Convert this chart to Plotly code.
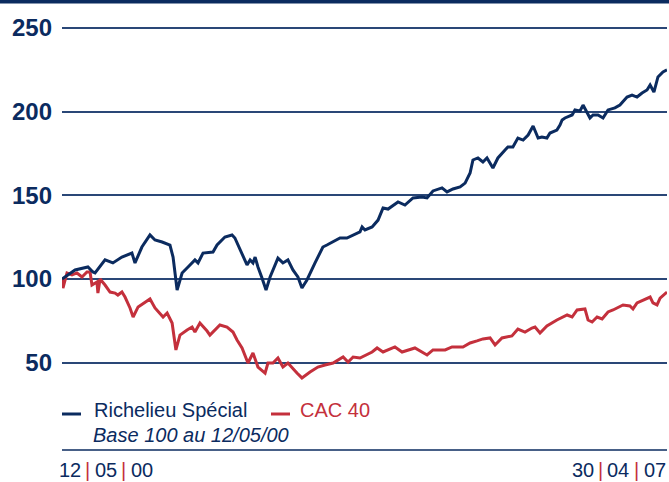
import pandas as pd
import plotly.graph_objects as go

START = "2000-05-12"
END = "2007-04-30"

# Richelieu Spécial (base 100) – days since 12/05/00 and index values
rich_days = [0, 55, 109, 130, 139, 181, 214, 252, 294, 307, 336, 370, 391, 421, 454, 467, 484, 505, 530, 559,
             572, 593, 635, 652, 685, 715, 727, 757, 778, 791, 803, 812, 824, 841, 858, 875, 908, 929, 950, 971,
             992, 1009, 1030, 1064, 1085, 1097, 1114, 1140, 1169, 1198, 1224, 1253, 1262, 1274, 1304, 1329, 1350,
             1371, 1413, 1442, 1476, 1514, 1535, 1560, 1598, 1619, 1644, 1674, 1695, 1716, 1728, 1749, 1770, 1787,
             1812, 1833, 1863, 1875, 1896, 1917, 1939, 1960, 1981, 2002, 2018, 2039, 2052, 2081, 2094, 2103, 2115,
             2145, 2157, 2178, 2191, 2208, 2220, 2233, 2254, 2275, 2296, 2325, 2346, 2376, 2397, 2418, 2439, 2460,
             2473, 2489, 2506, 2527, 2544]
rich_vals = [100.0, 105.4, 107.2, 104.2, 103.6, 111.4, 109.6, 113.1, 115.5, 109.6, 119.1, 126.3, 123.3, 122.1, 120.3,
             113.1, 93.4, 103.6, 107.2, 111.4, 109.6, 115.5, 116.1, 120.3, 125.1, 126.3, 124.5, 115.5, 108.4, 111.4,
             109.6, 113.1, 107.2, 100.6, 93.4, 101.2, 112.5, 109.6, 111.4, 105.4, 101.2, 94.6, 99.4, 109.6, 115.5,
             119.1, 120.3, 122.1, 124.5, 124.5, 126.3, 128.1, 131.1, 129.3, 131.1, 135.2, 142.4, 141.8, 146.0, 144.2,
             148.4, 149.0, 148.4, 152.6, 154.4, 152.0, 153.8, 155.0, 157.3, 163.3, 171.1, 172.3, 169.9, 172.3, 166.3,
             172.3, 177.1, 178.9, 178.9, 184.2, 183.0, 186.0, 191.4, 184.2, 184.8, 184.2, 187.2, 189.0, 192.0, 195.0,
             196.2, 198.0, 201.0, 200.4, 203.9, 199.8, 196.2, 198.0, 198.0, 196.2, 201.0, 202.2, 203.9, 208.7, 209.9,
             208.7, 211.1, 212.9, 215.9, 211.7, 220.7, 223.7, 224.9]

# CAC 40 (base 100)
cac_days = [0, 4, 21, 42, 63, 84, 105, 118, 126, 147, 151, 160, 181, 202, 223, 235, 252, 265, 286, 299, 320, 349,
            370, 391, 425, 442, 463, 479, 496, 526, 547, 559, 580, 610, 622, 664, 694, 719, 736, 757, 782, 803, 824,
            854, 866, 887, 908, 929, 950, 988, 1009, 1043, 1076, 1106, 1140, 1182, 1203, 1224, 1253, 1304, 1325,
            1350, 1400, 1430, 1484, 1535, 1560, 1611, 1640, 1686, 1716, 1745, 1770, 1800, 1821, 1850, 1892, 1917,
            1947, 1976, 1989, 2010, 2039, 2081, 2124, 2145, 2166, 2199, 2212, 2229, 2250, 2271, 2296, 2317, 2359,
            2388, 2401, 2418, 2443, 2473, 2485, 2502, 2515, 2536, 2544]
cac_vals = [100.0, 94.6, 103.6, 102.4, 103.6, 101.2, 104.2, 104.2, 96.4, 98.2, 91.6, 100.0, 96.4, 92.2, 91.6, 90.4,
            92.2, 89.2, 82.7, 77.3, 83.3, 86.3, 88.1, 82.7, 77.3, 79.7, 73.7, 57.6, 66.5, 69.5, 71.3, 68.3, 73.7,
            68.9, 66.5, 72.5, 71.3, 68.3, 63.6, 58.8, 49.8, 55.8, 47.4, 43.8, 49.8, 49.8, 52.8, 47.4, 49.8, 43.8,
            40.9, 44.4, 47.4, 48.6, 49.8, 53.4, 50.4, 53.4, 52.8, 56.4, 58.8, 56.4, 59.4, 56.4, 58.8, 54.6, 57.6,
            57.6, 59.4, 59.4, 61.8, 63.0, 64.2, 64.8, 60.6, 64.8, 66.0, 70.1, 68.3, 70.7, 71.3, 67.7, 71.9, 75.5,
            78.5, 77.3, 81.5, 82.1, 75.5, 74.3, 77.3, 76.1, 80.3, 81.5, 84.5, 83.9, 82.1, 85.7, 87.5, 89.2, 85.7,
            84.5, 88.6, 91.6, 92.2]

y_ticks = [50, 100, 150, 200, 250]
series_names = ["Richelieu Spécial", "CAC 40"]
subtitle = "Base 100 au 12/05/00"
start_label = ["12", "05", "00"]
end_label = ["30", "04", "07"]

NAVY = "#0b2b5f"
RED = "#c4303c"
GRID = "#2a4777"

t0 = pd.Timestamp(START)
rich_x = t0 + pd.to_timedelta(rich_days, unit="D")
cac_x = t0 + pd.to_timedelta(cac_days, unit="D")

fig = go.Figure()
fig.add_trace(go.Scatter(x=cac_x, y=cac_vals, mode="lines", name=series_names[1],
                         line=dict(color=RED, width=3)))
fig.add_trace(go.Scatter(x=rich_x, y=rich_vals, mode="lines", name=series_names[0],
                         line=dict(color=NAVY, width=3)))

# plot area: x 62..667 px, y 10..395 px
L, R, T, B = 62, 2, 10, 87
W = 669 - L - R
H = 482 - T - B


def px(xp):
    return (xp - L) / W


def py(yp):
    return (T + H - yp) / H


fig.update_layout(
    width=669, height=482,
    margin=dict(l=L, r=R, t=T, b=B, autoexpand=False),
    paper_bgcolor="white", plot_bgcolor="white",
    showlegend=False,
    xaxis=dict(range=[START, END], showgrid=False, showticklabels=False, zeroline=False,
               showline=False, ticks=""),
    yaxis=dict(range=[30.7, 260.7], tickvals=y_ticks, ticktext=[str(v) for v in y_ticks],
               showgrid=True, gridcolor=GRID, gridwidth=1.6, zeroline=False, showline=False,
               ticks="", ticklabelstandoff=9,
               tickfont=dict(family="Liberation Sans, Arial", size=24, color=NAVY, weight="bold")),
)

shapes = [
    # top band
    dict(type="rect", xref="paper", yref="paper", x0=px(-5), x1=px(675), y0=py(3.5), y1=py(-5),
         fillcolor=NAVY, line=dict(width=0)),
    # bottom rule
    dict(type="line", xref="paper", yref="paper", x0=px(62), x1=px(667), y0=py(450), y1=py(450),
         line=dict(color=NAVY, width=1.6)),
    # legend swatches
    dict(type="line", xref="paper", yref="paper", x0=px(62), x1=px(81), y0=py(414), y1=py(414),
         line=dict(color=NAVY, width=3)),
    dict(type="line", xref="paper", yref="paper", x0=px(271), x1=px(290), y0=py(414), y1=py(414),
         line=dict(color=RED, width=3)),
]
fig.update_layout(shapes=shapes)

FONT = "Liberation Sans, Arial"

annotations = [
    dict(text=series_names[0], x=px(93), y=py(410), xanchor="left", yanchor="middle",
         font=dict(family=FONT, size=20, color=NAVY)),
    dict(text=series_names[1], x=px(299), y=py(410), xanchor="left", yanchor="middle",
         font=dict(family=FONT, size=20, color=RED)),
    dict(text="<i>" + subtitle + "</i>", x=px(92), y=py(435), xanchor="left", yanchor="middle",
         font=dict(family=FONT, size=20, color=NAVY)),
]

# date labels: digit groups in navy, separators in red
start_centres = [70, 105.5, 142]
end_centres = [582.5, 618, 654.5]
for parts, centres in ((start_label, start_centres), (end_label, end_centres)):
    for i, (txt, cx) in enumerate(zip(parts, centres)):
        annotations.append(dict(text=txt, x=px(cx), y=py(470), xanchor="center", yanchor="middle",
                                font=dict(family=FONT, size=20, color=NAVY)))
        if i < len(parts) - 1:
            sx = (cx + centres[i + 1]) / 2
            annotations.append(dict(text="|", x=px(sx), y=py(470), xanchor="center", yanchor="middle",
                                    font=dict(family=FONT, size=20, color=RED)))

for a in annotations:
    a.update(xref="paper", yref="paper", showarrow=False, borderpad=0)
fig.update_layout(annotations=annotations)

fig.write_html("out.html", config={"displayModeBar": False},
               post_script="document.body.style.margin='0';document.body.style.overflow='hidden';")
